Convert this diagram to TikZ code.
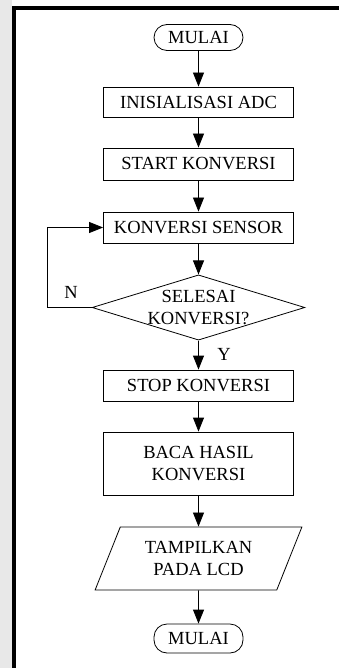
\documentclass[tikz,border=0pt]{standalone}
\usepackage{fontspec}
\setmainfont{Liberation Serif}
\usepackage{tikz}
\usetikzlibrary{arrows.meta,positioning,shapes.geometric}

\begin{document}
\begin{tikzpicture}
[
    x = 1pt, y = -1pt,
    every node/.style = {font = \fontsize{18.5}{21.5}\selectfont, align = center, inner sep = 0pt},
    terminal/.style = {draw, rectangle, rounded corners = 13pt, minimum width = 89pt},
    process/.style = {draw, rectangle, minimum width = 190pt},
    decision/.style = {draw, diamond, aspect = 3.26, minimum width = 212pt, minimum height = 65pt},
    inout/.style = {draw, trapezium, trapezium left angle = 63, trapezium right angle = 117,
                    trapezium stretches = true, minimum width = 207pt, minimum height = 63pt},
    arr/.style = {-{Triangle[length=14pt,width=11pt]}, line width = 0.8pt},
    line width = 0.8pt
]
\useasboundingbox (0,0) rectangle (339,668);
% page frame
\fill[gray!18] (0,0) rectangle (12,668);
\draw[line width = 4pt] (14,668) -- (14,8) -- (339,8);

\node[terminal, minimum height = 26pt] (start) at (198.5,37.5) {MULAI};
\node[process, minimum height = 30pt] (init) at (198.5,102) {INISIALISASI ADC};
\node[process, minimum height = 32pt] (startk) at (198.5,164) {START KONVERSI};
\node[process, minimum height = 31pt] (sensor) at (198.5,227.5) {KONVERSI SENSOR};
\node[decision] (dec) at (198.5,307.5) {SELESAI\\KONVERSI?};
\node[process, minimum height = 31pt] (stop) at (198.5,385.5) {STOP KONVERSI};
\node[process, minimum height = 63pt] (baca) at (198.5,463.5) {BACA HASIL\\KONVERSI};
\node[inout] (lcd) at (198.5,558.5) {TAMPILKAN\\PADA LCD};
\node[terminal, minimum height = 29pt] (end) at (198.5,638.5) {MULAI};

\node (lblN) at (71,292) {N};
\node (lblY) at (224,354) {Y};

\draw[arr] (start) -- (init);
\draw[arr] (init) -- (startk);
\draw[arr] (startk) -- (sensor);
\draw[arr] (sensor) -- (dec);
\draw[arr] (dec) -- (stop);
\draw[arr] (dec.west) -- ++(-44,0) |- (sensor.west);
\draw[arr] (stop) -- (baca);
\draw[arr] (baca) -- (lcd);
\draw[arr] (lcd) -- (end);
\end{tikzpicture}
\end{document}
